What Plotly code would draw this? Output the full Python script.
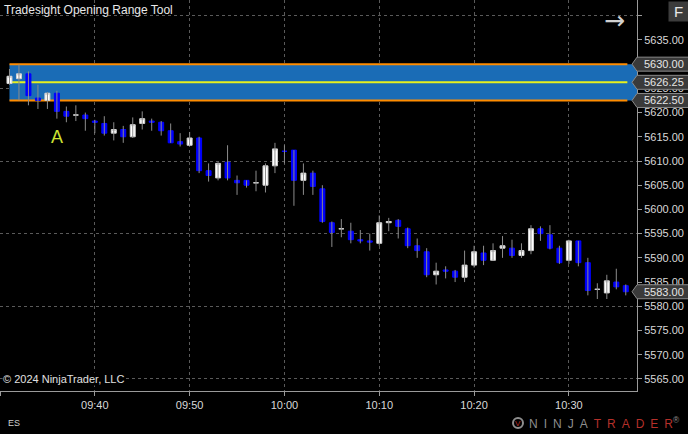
import pandas as pd
import plotly.graph_objects as go

# ---------------- data ----------------
times = pd.date_range("2024-09-09 09:31", periods=66, freq="1min")

opens = [5626.0, 5627.0, 5628.0, 5623.0, 5622.5, 5624.0, 5620.25, 5619.5, 5619.5, 5618.25,
         5617.75, 5615.75, 5616.5, 5615.0, 5617.75, 5618.25, 5618.0, 5616.25, 5614.0, 5613.25,
         5614.75, 5608.0, 5606.5, 5609.75, 5606.0, 5606.0, 5605.5, 5605.0, 5609.0, 5612.0,
         5612.25, 5606.0, 5607.5, 5604.25, 5597.25, 5596.0, 5595.5, 5593.75, 5593.5, 5593.0,
         5597.25, 5597.75, 5596.0, 5592.5, 5591.25, 5586.5, 5587.5, 5587.25, 5586.0, 5588.5,
         5591.0, 5589.5, 5592.0, 5592.0, 5590.5, 5591.5, 5596.0, 5594.75, 5592.0, 5589.5,
         5593.5, 5589.0, 5583.5, 5582.75, 5585.0, 5584.25]
highs = [5629.0, 5630.0, 5628.5, 5625.75, 5624.25, 5624.5, 5621.25, 5621.5, 5620.0, 5618.5,
         5619.25, 5618.0, 5617.25, 5619.0, 5620.25, 5618.75, 5618.25, 5617.75, 5615.75, 5616.0,
         5615.0, 5609.5, 5609.75, 5613.25, 5607.0, 5606.0, 5608.0, 5609.5, 5613.75, 5613.25,
         5612.25, 5609.5, 5608.0, 5605.0, 5597.5, 5598.0, 5597.25, 5595.75, 5595.0, 5598.75,
         5598.25, 5598.0, 5596.25, 5594.0, 5592.0, 5589.0, 5588.25, 5587.5, 5591.5, 5592.5,
         5592.5, 5593.0, 5594.5, 5593.75, 5593.0, 5596.75, 5596.5, 5596.75, 5592.5, 5593.75,
         5593.5, 5590.0, 5584.75, 5586.5, 5587.75, 5584.5]
lows = [5625.75, 5622.5, 5621.5, 5620.75, 5620.75, 5618.75, 5618.0, 5618.25, 5616.25, 5615.75,
        5615.25, 5614.25, 5613.75, 5614.75, 5616.5, 5616.25, 5615.25, 5613.75, 5613.0, 5613.25,
        5607.5, 5605.75, 5606.0, 5606.0, 5603.0, 5604.5, 5603.75, 5603.5, 5607.5, 5609.5,
        5600.75, 5603.0, 5603.0, 5597.25, 5592.25, 5594.25, 5593.0, 5593.0, 5591.5, 5592.5,
        5595.5, 5594.0, 5592.0, 5590.0, 5586.0, 5584.5, 5585.75, 5585.0, 5585.0, 5588.0,
        5588.5, 5589.5, 5590.0, 5590.0, 5590.0, 5590.75, 5593.5, 5591.75, 5588.75, 5588.75,
        5588.25, 5582.25, 5581.5, 5581.5, 5583.5, 5582.25]
closes = [5627.5, 5628.0, 5623.5, 5622.5, 5624.0, 5620.25, 5619.25, 5619.5, 5618.75, 5618.0,
          5615.75, 5616.5, 5615.0, 5617.5, 5618.75, 5618.0, 5616.25, 5613.75, 5613.5, 5614.75,
          5608.0, 5607.0, 5609.5, 5606.5, 5605.5, 5605.0, 5605.5, 5609.0, 5612.5, 5612.0,
          5606.0, 5607.5, 5604.75, 5597.5, 5595.25, 5596.0, 5593.75, 5593.5, 5593.25, 5597.25,
          5597.5, 5596.5, 5592.5, 5591.5, 5586.5, 5587.25, 5587.25, 5586.0, 5588.5, 5591.25,
          5589.5, 5591.5, 5592.5, 5590.5, 5591.5, 5596.0, 5595.0, 5592.0, 5589.0, 5593.5,
          5589.0, 5583.25, 5583.5, 5585.25, 5584.0, 5583.0]

range_high = 5630.0
range_low = 5622.5
range_mid = 5626.25

price_ticks = [5565, 5570, 5575, 5580, 5585, 5590, 5595, 5600, 5605, 5610, 5615, 5620, 5625, 5630, 5635]
grid_prices = [5565, 5580, 5595, 5610, 5625, 5640]
y_range = [5562.5, 5643.25]
x_range = [pd.Timestamp("2024-09-09 09:30:00"), pd.Timestamp("2024-09-09 10:37:11")]
time_tick0 = "2024-09-09 09:40"

title_text = "Tradesight Opening Range Tool"
copyright_text = "© 2024 NinjaTrader, LLC"
instrument = "ES"
label_A = "A"

# ---------------- style ----------------
FONT = "Liberation Sans, Arial, sans-serif"
TXT = "#d8d8d8"
GRID = "#5a5a5a"
AXIS = "#9a9a9a"
WICK = "#8c8c8c"
UP = "#ffffff"
DOWN = "#0000ff"

fig = go.Figure()

# wicks (high-low), drawn first in grey
wick_x, wick_y = [], []
for t, h, l in zip(times, highs, lows):
    wick_x += [t, t, None]
    wick_y += [l, h, None]
fig.add_trace(go.Scatter(x=wick_x, y=wick_y, mode="lines", line=dict(color=WICK, width=1),
                         hoverinfo="skip", showlegend=False))

# bodies (open-close)
body_top = [max(o, c) for o, c in zip(opens, closes)]
body_bot = [min(o, c) for o, c in zip(opens, closes)]
fig.add_trace(go.Candlestick(
    x=times, open=opens, high=body_top, low=body_bot, close=closes,
    increasing=dict(fillcolor=UP, line=dict(color="#d0d0d0", width=1)),
    decreasing=dict(fillcolor=DOWN, line=dict(color=DOWN, width=1)),
    whiskerwidth=0, showlegend=False, hoverinfo="skip",
))

shapes = []
# opening range box
line_end = times[-1] + pd.Timedelta(seconds=10)
shapes.append(dict(type="rect", xref="x", yref="y", x0=times[0], x1=x_range[1],
                   y0=range_low, y1=range_high, fillcolor="#1a6cb6",
                   line=dict(width=0), layer="between"))
for val, col in [(range_high, "#ff8c00"), (range_low, "#ff8c00"), (range_mid, "#e6f01e")]:
    shapes.append(dict(type="line", xref="x", yref="y", x0=times[0], x1=line_end,
                       y0=val, y1=val, line=dict(color=col, width=2), layer="between"))

# price tags on the right axis
tag_vals = [range_high, range_mid, range_low, closes[-1]]
annotations = []
for v in tag_vals:
    shapes.append(dict(type="path", xref="paper", yref="y", xsizemode="pixel", ysizemode="pixel",
                       xanchor=1, yanchor=v,
                       path="M -5,0 L 0,7 L 52,7 L 52,-7 L 0,-7 Z",
                       fillcolor="#3a3a3a", line=dict(color="#8a8a8a", width=1), layer="above"))
    annotations.append(dict(xref="paper", yref="y", x=1, y=v, xanchor="left", yanchor="middle",
                            xshift=5, text=f"{v:.2f}", showarrow=False,
                            font=dict(family=FONT, size=11, color="#e6e6e6")))

# title
annotations.append(dict(xref="paper", yref="paper", x=0, y=1, xanchor="left", yanchor="top",
                        xshift=2, yshift=-1, text=title_text, showarrow=False,
                        font=dict(family=FONT, size=12, color="#e8e8e8")))
# copyright
annotations.append(dict(xref="paper", yref="paper", x=0, y=0, xanchor="left", yanchor="middle",
                        xshift=2, yshift=12, text=copyright_text, showarrow=False, bgcolor="#000000",
                        borderpad=0, font=dict(family=FONT, size=11, color="#e0e0e0")))
# A label
annotations.append(dict(xref="x", yref="y", x=times[5], y=5615.0, text=label_A, showarrow=False,
                        xanchor="center", yanchor="middle",
                        font=dict(family=FONT, size=18, color="#cde332")))
# arrow icon
annotations.append(dict(xref="paper", yref="paper", x=1, y=1, xanchor="center", yanchor="middle",
                        xshift=-23, yshift=-20, text="→", showarrow=False,
                        font=dict(family="DejaVu Sans", size=25, color="#d0d0d0")))
# F button
annotations.append(dict(xref="paper", yref="paper", x=1, y=1, xanchor="center", yanchor="middle",
                        xshift=41, yshift=-11, text="F", showarrow=False, bgcolor="#3c3c3c",
                        width=17, height=17, borderpad=1,
                        font=dict(family=FONT, size=15, color="#e8e8e8")))
# ES
annotations.append(dict(xref="paper", yref="paper", x=0, y=0, xanchor="left", yanchor="middle",
                        xshift=6, yshift=-32, text=instrument, showarrow=False,
                        font=dict(family=FONT, size=9, color="#cfcfcf")))
# NinjaTrader logo
sp = "\u2002"
logo = sp.join("NINJA") + sp + "<span style='color:#b5302a'>" + sp.join("TRADER") + "</span>" + "<sup>®</sup>"
annotations.append(dict(xref="paper", yref="paper", x=1, y=0, xanchor="right", yanchor="middle",
                        xshift=45, yshift=-32, text=logo, showarrow=False,
                        font=dict(family=FONT, size=12, color="#8e8e8e")))
shapes.append(dict(type="circle", xref="paper", yref="paper", xsizemode="pixel", ysizemode="pixel",
                   xanchor=1, yanchor=0, x0=-124, x1=-114, y0=-37, y1=-27,
                   line=dict(color="#8e8e8e", width=2), fillcolor="#000000", layer="above"))
annotations.append(dict(xref="paper", yref="paper", x=1, y=0, xanchor="center", yanchor="middle",
                        xshift=-119, yshift=-32, text="V", showarrow=False,
                        font=dict(family=FONT, size=8, color="#b5302a")))

fig.update_layout(
    width=688, height=434,
    margin=dict(l=0, r=51, t=0, b=43, autoexpand=False),
    paper_bgcolor="#000000", plot_bgcolor="#000000",
    boxgap=0.25,
    shapes=shapes, annotations=annotations,
    showlegend=False,
    xaxis=dict(
        type="date", range=x_range, rangeslider=dict(visible=False),
        tick0=time_tick0, dtick=600000, tickformat="%H:%M",
        showgrid=True, gridcolor=GRID, griddash="dot", gridwidth=1,
        showline=True, linecolor=AXIS, linewidth=1,
        ticks="outside", ticklen=4, tickcolor=AXIS, zeroline=False,
        tickfont=dict(family=FONT, size=11, color=TXT),
    ),
    yaxis=dict(
        side="right", range=y_range, tickmode="array", tickvals=price_ticks,
        tickformat=".2f", showgrid=False,
        showline=True, linecolor=AXIS, linewidth=1,
        ticks="outside", ticklen=4, tickcolor=AXIS, zeroline=False,
        tickfont=dict(family=FONT, size=11, color=TXT),
        minor=dict(tickmode="array", tickvals=grid_prices, showgrid=True, gridcolor=GRID,
                   griddash="dot", gridwidth=1, ticks="outside", ticklen=4, tickcolor=AXIS),
    ),
)

fig.write_html("out.html", config={"displayModeBar": False},
               post_script="document.body.style.margin='0';document.body.style.padding='0';"
                           "document.body.style.background='#000';")
